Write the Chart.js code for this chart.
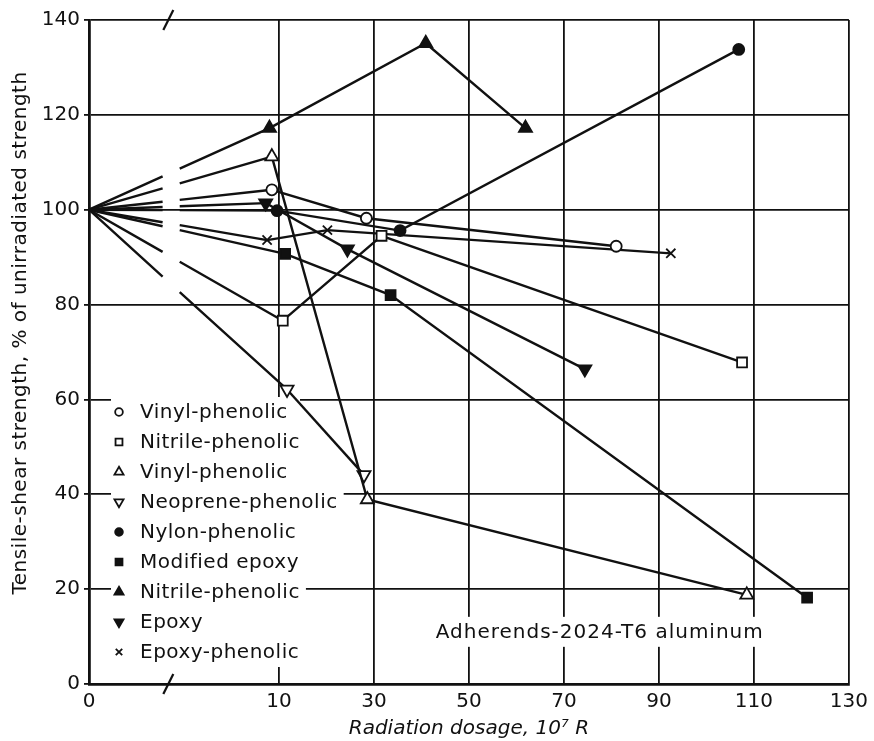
<!DOCTYPE html>
<html>
<head>
<meta charset="utf-8">
<script src="https://cdn.jsdelivr.net/npm/chart.js@4.4.1/dist/chart.umd.min.js"></script>
<style>
    html, body { margin: 0; padding: 0; background: #fff; }
</style>
</head>
<body>
<canvas id="grafica" width="874" height="741"></canvas>
<script>
// broken x axis: 0 is drawn at this axis position, everything else at its own value
const ZERO_AT = -30;
const X_TICKS = [0, 10, 30, 50, 70, 90, 110, 130];
const Y_TICKS = [0, 20, 40, 60, 80, 100, 120, 140];

// radiation dosage (10^7 R) / tensile-shear strength (% of unirradiated)
const vinylCircleX = [0, 8.5, 28.4, 81];
const vinylCircleY = [100, 104.2, 98.2, 92.3];
const nitrileSquareX = [0, 10.8, 31.6, 107.5];
const nitrileSquareY = [100, 76.6, 94.5, 67.8];
const vinylTriX = [0, 8.5, 28.6, 108.5];
const vinylTriY = [100, 111.2, 38.9, 18.8];
const neopreneX = [0, 11.7, 27.9];
const neopreneY = [100, 62.1, 44.1];
const nylonX = [0, 9.6, 35.5, 106.8];
const nylonY = [100, 99.8, 95.6, 133.8];
const modEpoxyX = [0, 11.3, 33.5, 121.2];
const modEpoxyY = [100, 90.7, 82.0, 18.2];
const nitrileTriX = [0, 8, 40.9, 61.9];
const nitrileTriY = [100, 117.2, 135.1, 117.2];
const epoxyX = [0, 7.2, 24.4, 74.4];
const epoxyY = [100, 101.4, 91.7, 66.4];
const epoxyPhenX = [0, 7.5, 20.2, 92.5];
const epoxyPhenY = [100, 93.6, 95.7, 90.8];

const INK = '#111';
const FONT = '"DejaVu Sans", sans-serif';

const series = [
    { label: 'Vinyl-phenolic', x: vinylCircleX, y: vinylCircleY, style: 'circle', filled: false, r: 5.5 },
    { label: 'Nitrile-phenolic', x: nitrileSquareX, y: nitrileSquareY, style: 'rect', filled: false, r: 7 },
    { label: 'Vinyl-phenolic', x: vinylTriX, y: vinylTriY, style: 'triangle', filled: false, r: 7.5 },
    { label: 'Neoprene-phenolic', x: neopreneX, y: neopreneY, style: 'triangle', rot: 180, filled: false, r: 7.5 },
    { label: 'Nylon-phenolic', x: nylonX, y: nylonY, style: 'circle', filled: true, r: 5.5 },
    { label: 'Modified epoxy', x: modEpoxyX, y: modEpoxyY, style: 'rect', filled: true, r: 7 },
    { label: 'Nitrile-phenolic', x: nitrileTriX, y: nitrileTriY, style: 'triangle', filled: true, r: 7.5 },
    { label: 'Epoxy', x: epoxyX, y: epoxyY, style: 'triangle', rot: 180, filled: true, r: 7.5 },
    { label: 'Epoxy-phenolic', x: epoxyPhenX, y: epoxyPhenY, style: 'crossRot', filled: false, r: 6.5 }
];

const toAxis = v => (v === 0 ? ZERO_AT : v);

// gap in the first segment of every curve where the axis is broken
const GAP_FROM = -14.5, GAP_TO = -10.9;
function dashBreak(ctx) {
    if (ctx.p0DataIndex !== 0) return undefined;
    const sx = ctx.chart.scales.x;
    const a = sx.getPixelForValue(GAP_FROM), b = sx.getPixelForValue(GAP_TO);
    const dx = ctx.p1.x - ctx.p0.x;
    const k = Math.hypot(dx, ctx.p1.y - ctx.p0.y) / dx;
    return [(a - ctx.p0.x) * k, (b - a) * k, 4000, 0];
}

const extras = {
    id: 'extras',
    beforeDatasetsDraw(chart) {
        const c = chart.ctx;
        const sx = chart.scales.x, sy = chart.scales.y;
        c.save();
        c.font = '20px ' + FONT;
        c.letterSpacing = '0.5px';
        c.textBaseline = 'middle';

        // legend block inside the plot
        const lx = 111, ly = 412, step = 30;
        chart.data.datasets.forEach((ds, i) => {
            const y = ly + i * step;
            const w = c.measureText(ds.label).width;
            c.fillStyle = '#fff';
            c.fillRect(lx, y - 15, Math.max(300, 142 + w + 4) - lx, step);
            c.fillStyle = ds.pointBackgroundColor;
            c.strokeStyle = INK;
            c.lineWidth = 1.8;
            Chart.helpers.drawPoint(c, {
                pointStyle: ds.pointStyle, rotation: ds.pointRotation,
                radius: ds._r * 0.7, borderWidth: 1.8
            }, 119, y);
            c.fillStyle = INK;
            c.textAlign = 'left';
            c.fillText(ds.label, 140, y + 1);
        });

        // note
        c.letterSpacing = '1px';
        const note = 'Adherends-2024-T6 aluminum';
        const nx = sx.getPixelForValue(43), ny = sy.getPixelForValue(11);
        const nw = c.measureText(note).width;
        c.fillStyle = '#fff';
        c.fillRect(nx - 5, ny - 15, nw + 10, 30);
        c.fillStyle = INK;
        c.fillText(note, nx, ny + 1);
        c.restore();
    },
    afterDraw(chart) {
        const c = chart.ctx;
        const { top, bottom } = chart.chartArea;
        const bx = chart.scales.x.getPixelForValue(-13.3);
        c.save();
        c.strokeStyle = INK;
        c.lineWidth = 2.2;
        [top, bottom].forEach(y => {
            c.beginPath();
            c.moveTo(bx - 5, y + 10);
            c.quadraticCurveTo(bx - 1, y + 2, bx, y);
            c.quadraticCurveTo(bx + 1, y - 2, bx + 5, y - 10);
            c.stroke();
        });

        // y axis title
        c.font = '20px ' + FONT;
        c.letterSpacing = '0.5px';
        c.fillStyle = INK;
        c.textAlign = 'center';
        c.textBaseline = 'middle';
        c.translate(21, 333);
        c.rotate(-Math.PI / 2);
        c.fillText('Tensile-shear strength, % of unirradiated strength', 0, 0);
        c.restore();
    }
};

new Chart(document.getElementById('grafica'), {
    type: 'scatter',
    data: {
        datasets: series.map(s => ({
            label: s.label,
            data: s.x.map((v, i) => ({ x: toAxis(v), y: s.y[i] })),
            showLine: true,
            borderColor: INK,
            borderWidth: 2.4,
            pointStyle: s.style,
            pointRotation: s.rot || 0,
            pointRadius: c => (c.dataIndex === 0 ? 0 : s.r),
            pointBackgroundColor: s.filled ? INK : '#fff',
            pointBorderColor: INK,
            pointBorderWidth: 1.8,
            segment: { borderDash: dashBreak },
            clip: false,
            _r: s.r
        }))
    },
    options: {
        responsive: false,
        devicePixelRatio: 1,
        animation: false,
        layout: { padding: { top: 20, right: 23, left: 0, bottom: 0 } },
        plugins: { legend: { display: false }, tooltip: { enabled: false } },
        scales: {
            x: {
                type: 'linear',
                min: ZERO_AT,
                max: 130,
                afterBuildTicks: s => { s.ticks = X_TICKS.map(v => ({ value: toAxis(v) })); },
                afterFit: s => { s.height = 57; },
                grid: { color: INK, lineWidth: 1.8, drawTicks: false },
                border: { color: INK, width: 2.8 },
                ticks: {
                    autoSkip: false, maxRotation: 0, padding: 6, color: INK,
                    font: { family: FONT, size: 20 },
                    callback: (v, i) => X_TICKS[i]
                },
                title: {
                    display: true, text: 'Radiation dosage, 10⁷ R', color: INK,
                    font: { family: FONT, size: 20, style: 'italic' },
                    padding: { top: 0, bottom: 0 }
                }
            },
            y: {
                min: 0,
                max: 140,
                afterBuildTicks: s => { s.ticks = Y_TICKS.map(v => ({ value: v })); },
                afterFit: s => { s.width = 89; },
                grid: { color: INK, lineWidth: 1.8, tickLength: 5 },
                border: { color: INK, width: 2.8 },
                ticks: { padding: 4, color: INK, font: { family: FONT, size: 20 } }
            }
        }
    },
    plugins: [extras]
});
</script>
</body>
</html>
